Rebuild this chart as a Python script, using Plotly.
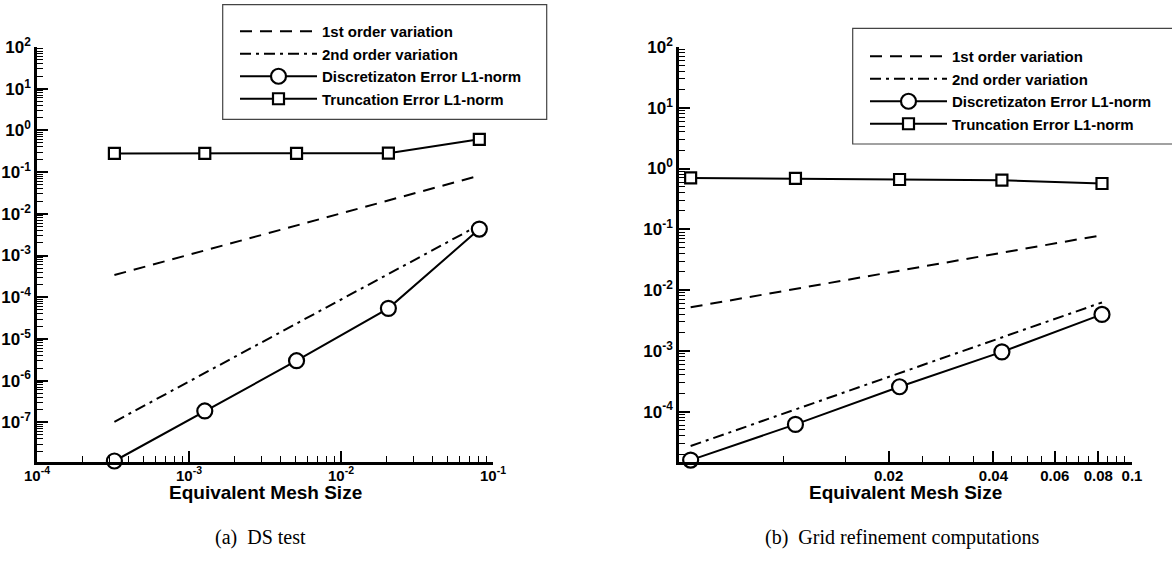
import plotly.graph_objects as go

# ---------------- data ----------------
# (a) DS test
ds_mesh = [3.23e-4, 1.27e-3, 5.1e-3, 0.0205, 0.0813]
ds_disc_err = [1.18e-8, 1.87e-7, 3.0e-6, 5.4e-5, 4.3e-3]
ds_trunc_err = [0.28, 0.28, 0.28, 0.285, 0.61]
ds_ref_mesh = [3.23e-4, 0.0813]
ds_first_order = [3.4e-4, 0.082]
ds_second_order = [1.03e-7, 5.4e-3]

# (b) Grid refinement computations
gr_mesh = [0.0054, 0.0108, 0.0215, 0.0423, 0.082]
gr_disc_err = [1.59e-5, 6.15e-5, 2.56e-4, 9.6e-4, 3.97e-3]
gr_trunc_err = [0.70, 0.686, 0.66, 0.642, 0.567]
gr_ref_mesh = [0.0054, 0.082]
gr_first_order = [5.2e-3, 0.080]
gr_second_order = [2.71e-5, 6.25e-3]

names = ["1st order variation", "2nd order variation",
         "Discretizaton Error L1-norm", "Truncation Error L1-norm"]
x_title = "Equivalent Mesh Size"
captions = ["(a)  DS test", "(b)  Grid refinement computations"]

left_y_exps = list(range(-7, 3))
left_x_exps = list(range(-4, 0))
right_y_exps = list(range(-4, 3))
right_x_major = [0.02, 0.04, 0.06, 0.08, 0.1]
right_x_major_text = ["0.02", "0.04", "0.06", "0.08", "0.1"]
right_x_minor = [0.01, 0.015, 0.025, 0.03, 0.035, 0.045, 0.05, 0.055,
                 0.065, 0.07, 0.075, 0.085, 0.09, 0.095]

# ---------------- styles ----------------
W, H = 1172, 564
FONT = "Liberation Sans, Arial, Helvetica, sans-serif"
SERIF = "Liberation Serif, Times New Roman, serif"
LW = 2
DASH = "12px,8px"
DASHDOT = "11px,5px,3px,5px"


def minor_vals(e0, e1):
    v = []
    for e in range(e0, e1):
        for m in range(2, 10):
            v.append(m * 10.0 ** e)
    return v


def sup_text(exps):
    return ["10<sup>%d</sup>" % e for e in exps]


fig = go.Figure()


def add_set(xref, yref, legend, mesh, ref_mesh, first, second, disc, trunc):
    common = dict(xaxis=xref, yaxis=yref, legend=legend, cliponaxis=False)
    fig.add_trace(go.Scatter(x=ref_mesh, y=first, mode="lines", name=names[0],
                             line=dict(color="black", width=LW, dash=DASH), **common))
    fig.add_trace(go.Scatter(x=ref_mesh, y=second, mode="lines", name=names[1],
                             line=dict(color="black", width=LW, dash=DASHDOT), **common))
    fig.add_trace(go.Scatter(x=mesh, y=disc, mode="lines+markers", name=names[2],
                             line=dict(color="black", width=LW),
                             marker=dict(symbol="circle", size=15, color="white",
                                         line=dict(color="black", width=2.2)), **common))
    fig.add_trace(go.Scatter(x=mesh, y=trunc, mode="lines+markers", name=names[3],
                             line=dict(color="black", width=LW),
                             marker=dict(symbol="square", size=11, color="white",
                                         line=dict(color="black", width=2.2)), **common))


add_set("x", "y", "legend", ds_mesh, ds_ref_mesh, ds_first_order, ds_second_order,
        ds_disc_err, ds_trunc_err)
add_set("x2", "y2", "legend2", gr_mesh, gr_ref_mesh, gr_first_order, gr_second_order,
        gr_disc_err, gr_trunc_err)

ydom = [1 - 462 / H, 1 - 47 / H]
xtickfont = dict(family=FONT, size=15, color="black", weight="bold")
ytickfont = dict(family=FONT, size=17, color="black", weight="bold")
axis_common = dict(type="log", showgrid=False, zeroline=False, showline=True,
                   automargin=False,
                   linecolor="black", linewidth=2.5, ticks="inside", ticklen=11,
                   tickwidth=2, tickcolor="black", tickmode="array")
minor_common = dict(ticks="inside", ticklen=6, tickwidth=1.2, tickcolor="black",
                    showgrid=False, tickmode="array")
title_font = dict(family=FONT, size=19, color="black", weight="bold")
legend_font = dict(family=FONT, size=15, color="black", weight="bold")

fig.update_layout(
    width=W, height=H, margin=dict(l=0, r=0, t=0, b=0, autoexpand=False),
    paper_bgcolor="white", plot_bgcolor="white",
    xaxis=dict(domain=[37 / W, 493 / W], range=[-4, -1], anchor="y",
               tickvals=[10.0 ** e for e in left_x_exps], ticktext=sup_text(left_x_exps),
               minor=dict(tickvals=minor_vals(-4, -1), **minor_common),
               tickfont=xtickfont, ticklabelstandoff=-2, **axis_common),
    yaxis=dict(domain=ydom, range=[-7.952, 2], anchor="x",
               tickvals=[10.0 ** e for e in left_y_exps], ticktext=sup_text(left_y_exps),
               minor=dict(tickvals=minor_vals(-8, 2), **minor_common),
               tickfont=ytickfont, **axis_common),
    xaxis2=dict(domain=[679 / W, 1132 / W], range=[-2.30103, -1], anchor="y2",
                tickvals=right_x_major, ticktext=right_x_major_text,
                minor=dict(tickvals=right_x_minor, **minor_common),
                tickfont=xtickfont, ticklabelstandoff=-2, **axis_common),
    yaxis2=dict(domain=ydom, range=[-4.83, 2], anchor="x2",
                tickvals=[10.0 ** e for e in right_y_exps], ticktext=sup_text(right_y_exps),
                minor=dict(tickvals=minor_vals(-5, 2), **minor_common),
                tickfont=ytickfont, **axis_common),
    legend=dict(x=235 / W, y=1 - 15 / H, xanchor="left", yanchor="top",
                bgcolor="rgba(0,0,0,0)", borderwidth=0, itemwidth=77,
                font=legend_font, tracegroupgap=0),
    legend2=dict(x=865 / W, y=1 - 40 / H, xanchor="left", yanchor="top",
                 bgcolor="rgba(0,0,0,0)", borderwidth=0, itemwidth=77,
                 font=legend_font, tracegroupgap=0),
    showlegend=True,
    shapes=[
        dict(type="rect", xref="paper", yref="paper",
             x0=222.7 / W, x1=546.7 / W, y0=1 - 119.3 / H, y1=1 - 4.7 / H,
             line=dict(color="#444", width=1.2), fillcolor="rgba(0,0,0,0)"),
        dict(type="rect", xref="paper", yref="paper",
             x0=852.7 / W, x1=1180 / W, y0=1 - 144 / H, y1=1 - 28.3 / H,
             line=dict(color="#444", width=1.2), fillcolor="rgba(0,0,0,0)"),
    ],
    annotations=[
        dict(text=x_title, xref="x domain", yref="paper", x=0.5, y=1 - 492 / H,
             showarrow=False, xanchor="center", yanchor="middle", font=title_font),
        dict(text=x_title, xref="x2 domain", yref="paper", x=0.5, y=1 - 492 / H,
             showarrow=False, xanchor="center", yanchor="middle", font=title_font),
        dict(text=captions[0], xref="paper", yref="paper", x=260 / W, y=1 - 537 / H,
             showarrow=False, xanchor="center", yanchor="middle",
             font=dict(family=SERIF, size=20, color="black")),
        dict(text=captions[1], xref="paper", yref="paper",
             x=902 / W, y=1 - 537 / H, showarrow=False, xanchor="center", yanchor="middle",
             font=dict(family=SERIF, size=20, color="black")),
    ],
)

fig.write_html("out.html")
